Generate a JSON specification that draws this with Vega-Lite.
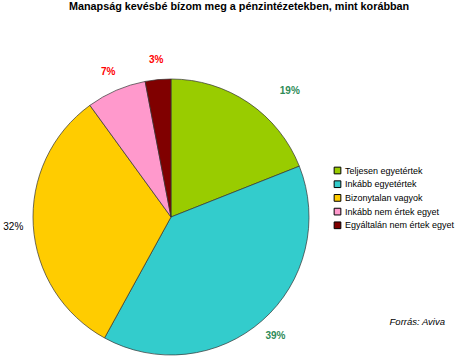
{
  "$schema": "https://vega.github.io/schema/vega-lite/v6.json",
  "autosize": "none",
  "padding": {"left": 0, "top": 0, "right": 116, "bottom": 0},
  "width": 342,
  "height": 434,
  "background": "white",
  "config": {"view": {"stroke": null}, "font": "Liberation Sans"},
  "title": {
    "text": "Manapság kevésbé bízom meg a pénzintézetekben, mint korábban",
    "anchor": "start",
    "dx": 69,
    "offset": -12,
    "fontSize": 10.8,
    "fontWeight": "bold",
    "font": "Liberation Sans",
    "color": "#000000"
  },
  "data": {
    "values": [
      {"category": "Teljesen egyetértek", "value": 19, "order": 1, "label": "19%"},
      {"category": "Inkább egyetértek", "value": 39, "order": 2, "label": "39%"},
      {"category": "Bizonytalan vagyok", "value": 32, "order": 3, "label": "32%"},
      {"category": "Inkább nem értek egyet", "value": 7, "order": 4, "label": "7%"},
      {"category": "Egyáltalán nem értek egyet", "value": 3, "order": 5, "label": "3%"}
    ]
  },
  "layer": [
    {
      "mark": {"type": "arc", "outerRadius": 138, "stroke": "#333333", "strokeWidth": 0.7},
      "encoding": {
        "theta": {"field": "value", "type": "quantitative", "stack": true},
        "order": {"field": "order", "type": "quantitative"},
        "color": {
          "field": "category",
          "type": "nominal",
          "sort": ["Teljesen egyetértek", "Inkább egyetértek", "Bizonytalan vagyok", "Inkább nem értek egyet", "Egyáltalán nem értek egyet"],
          "scale": {
            "domain": ["Teljesen egyetértek", "Inkább egyetértek", "Bizonytalan vagyok", "Inkább nem értek egyet", "Egyáltalán nem értek egyet"],
            "range": ["#99CC00", "#33CCCC", "#FFCC00", "#FF99CC", "#800000"]
          },
          "legend": {
            "orient": "none",
            "legendX": 333,
            "legendY": 166,
            "title": null,
            "symbolType": "square",
            "symbolSize": 45,
            "symbolStrokeColor": "#000000",
            "symbolStrokeWidth": 1,
            "labelFontSize": 9,
            "labelFont": "Liberation Sans",
            "labelColor": "#000000",
            "rowPadding": 2.7,
            "labelOffset": 3,
            "labelLimit": 200
          }
        }
      }
    },
    {
      "mark": {"type": "text", "radius": 158, "fontSize": 10, "fontWeight": "bold", "font": "Liberation Sans"},
      "encoding": {
        "theta": {"field": "value", "type": "quantitative", "stack": true},
        "order": {"field": "order", "type": "quantitative"},
        "text": {"field": "label"},
        "color": {
          "field": "category",
          "type": "nominal",
          "scale": {
            "domain": ["Teljesen egyetértek", "Inkább egyetértek", "Bizonytalan vagyok", "Inkább nem értek egyet", "Egyáltalán nem értek egyet"],
            "range": ["#2E8B57", "#2E8B57", "#000000", "#FF0000", "#FF0000"]
          },
          "legend": null
        },
        "opacity": {
          "condition": {"test": "datum.order == 1 || datum.order == 3", "value": 0},
          "value": 1
        }
      }
    },
    {
      "mark": {"type": "text", "radius": 158, "fontSize": 10, "fontWeight": "bold", "font": "Liberation Sans", "color": "#2E8B57", "dx": 30, "dy": 5},
      "encoding": {
        "theta": {"field": "value", "type": "quantitative", "stack": true},
        "order": {"field": "order", "type": "quantitative"},
        "text": {"field": "label"},
        "opacity": {
          "condition": {"test": "datum.order == 1", "value": 1},
          "value": 0
        }
      }
    },
    {
      "mark": {"type": "text", "radius": 158, "fontSize": 10, "font": "Liberation Sans", "color": "#000000"},
      "encoding": {
        "theta": {"field": "value", "type": "quantitative", "stack": true},
        "order": {"field": "order", "type": "quantitative"},
        "text": {"field": "label"},
        "opacity": {
          "condition": {"test": "datum.order == 3", "value": 1},
          "value": 0
        }
      }
    },
    {
      "data": {"values": [{"source": "Forrás: Aviva"}]},
      "mark": {"type": "text", "fontSize": 9.5, "fontStyle": "italic", "font": "Liberation Sans", "color": "#000000", "align": "right", "baseline": "middle"},
      "encoding": {
        "text": {"field": "source"},
        "x": {"value": 445},
        "y": {"value": 322}
      }
    }
  ],
  "resolve": {"scale": {"color": "independent"}, "legend": {"color": "independent"}}
}
